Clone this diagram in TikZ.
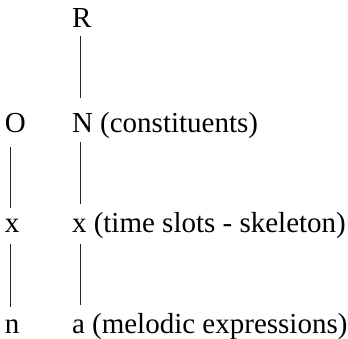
\documentclass[tikz,border=0pt]{standalone}
\usepackage{fontspec}
\setmainfont{Liberation Serif}
\usetikzlibrary{calc}
\begin{document}
\begin{tikzpicture}[x=1pt,y=-1pt,
  lbl/.style={inner sep=0pt,outer sep=0pt,anchor=base west,font=\fontsize{29}{34}\selectfont},
  txtlbl/.style={lbl,anchor=base west},
  conn/.style={line width=0.9pt,black!85}]
\useasboundingbox (0,0) rectangle (348,338);
\coordinate (colA) at (10,0);
\coordinate (colB) at (80,0);
% nodes
\node[lbl] (R) at (72,27) {R};
\node[lbl] (O) at (5,132) {O};
\node[lbl] (N) at (72,132) {N};
\node[txtlbl] (Nt) at ([xshift=7.25pt]N.base east) {(constituents)};
\node[lbl] (xa) at (5,232) {x};
\node[lbl] (xb) at (72,232) {x};
\node[txtlbl] (xt) at ([xshift=7.25pt]xb.base east) {(time slots - skeleton)};
\node[lbl] (n) at (5,333) {n};
\node[lbl] (a) at (72,333) {a};
\node[txtlbl] (at) at ([xshift=7.25pt]a.base east) {(melodic expressions)};
% connectors
\draw[conn] ($(R.south -| colB)+(0,9)$) -- ($(N.north -| colB)+(0,-15)$);
\draw[conn] ($(N.south -| colB)+(0,10)$) -- ($(xb.north -| colB)+(0,-15)$);
\draw[conn] ($(O.south -| colA)+(0,15)$) -- ($(xa.north -| colA)+(0,-11)$);
\draw[conn] ($(xb.south -| colB)+(0,12)$) -- ($(a.north -| colB)+(0,-14)$);
\draw[conn] ($(xa.south -| colA)+(0,12)$) -- ($(n.north -| colA)+(0,-12)$);
\end{tikzpicture}
\end{document}
